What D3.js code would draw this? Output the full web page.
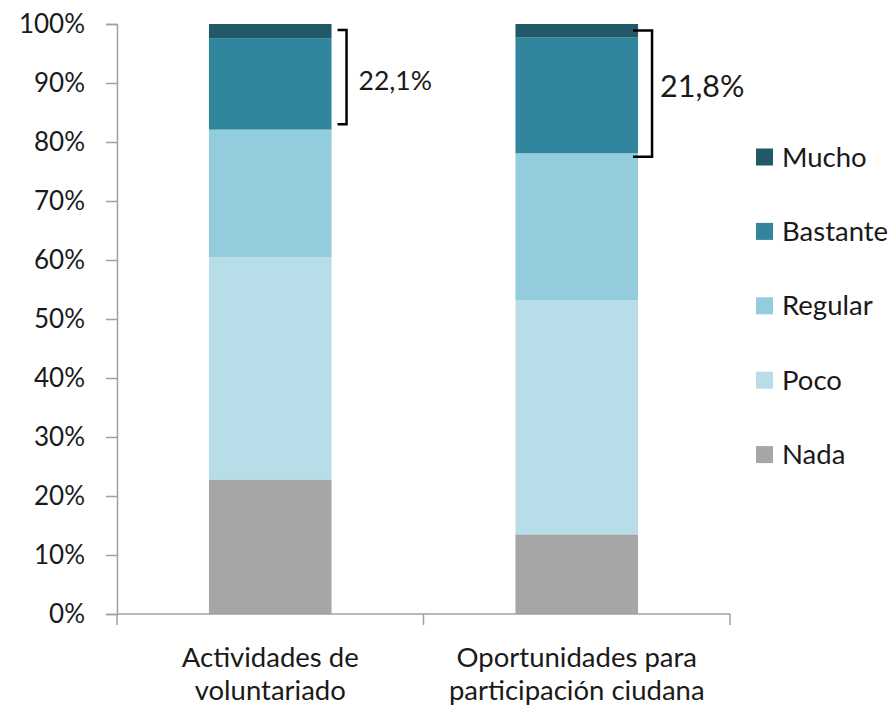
<!DOCTYPE html>
<html><head><meta charset="utf-8">
<script src="https://cdn.jsdelivr.net/npm/d3@7"></script>
<style>body{margin:0;background:#fff;} svg{display:block;} text{font-family:Lato, "Open Sans", sans-serif;}</style>
</head><body>
<svg id="c" width="894" height="707"></svg>
<script>
const categories = [["Actividades de","voluntariado"],["Oportunidades para","participación ciudana"]];
const seriesNames = ["Nada","Poco","Regular","Bastante","Mucho"];
const nada = [22.8, 13.5];
const poco = [37.7, 39.7];
const regular = [21.6, 24.9];
const bastante = [15.5, 19.6];
const mucho = [2.4, 2.3];
const colors = ["#a6a6a6","#b7dee8","#93cddd","#31859c","#215968"];
const yTicks = [0,10,20,30,40,50,60,70,80,90,100];
const bracketTop = [99.0, 98.9];
const bracketBottom = [83.0, 77.5];
const bracketLabels = ["22,1%","21,8%"];

const svg = d3.select("#c");
const x = d3.scaleBand().domain([0,1]).range([117,730]).padding(0);
const y = d3.scaleLinear().domain([0,100]).range([614,24]);
const barW = x.bandwidth()*0.4;

const rows = [0,1].map(i=>({i, Nada:nada[i], Poco:poco[i], Regular:regular[i], Bastante:bastante[i], Mucho:mucho[i]}));
const stack = d3.stack().keys(seriesNames)(rows);

stack.forEach((layer,k)=>{
  svg.append("g").selectAll("rect").data(layer).join("rect")
    .attr("x", d=>x(d.data.i)+x.bandwidth()/2-barW/2)
    .attr("width", barW)
    .attr("y", d=>y(d[1]))
    .attr("height", d=>y(d[0])-y(d[1]))
    .attr("fill", colors[k]);
});

// y axis
const ya = svg.append("g").attr("transform","translate(117,0)")
  .call(d3.axisLeft(y).tickValues(yTicks).tickSize(11).tickFormat(d=>d+"%"));
ya.select(".domain").attr("stroke","#a0a0a0").attr("stroke-width",1.5);
ya.selectAll(".tick line").attr("stroke","#a0a0a0").attr("stroke-width",1.5);
ya.selectAll(".tick text").attr("x",-32).attr("font-size",26).attr("fill","#1a1a1a")
  .style("font-family","Lato, sans-serif");

// x axis
const xa = svg.append("g").attr("transform","translate(0,614)");
xa.append("line").attr("x1",117).attr("x2",730).attr("stroke","#a0a0a0").attr("stroke-width",1.5);
[0,1,2].forEach(j=>{
  const xx = j<2 ? x(j) : x(1)+x.bandwidth();
  xa.append("line").attr("x1",xx).attr("x2",xx).attr("y1",0).attr("y2",11).attr("stroke","#a0a0a0").attr("stroke-width",1.5);
});
categories.forEach((lines,i)=>{
  lines.forEach((t,li)=>{
    svg.append("text").attr("x", x(i)+x.bandwidth()/2).attr("y", 667+li*33)
      .attr("text-anchor","middle").attr("font-size",27.5).attr("fill","#1a1a1a").text(t);
  });
});

// brackets
[0,1].forEach(i=>{
  const bx = x(i)+x.bandwidth()/2+barW/2;
  const vx = bx+15 - (i===1?1:0);
  const sx = i===0 ? bx+6 : bx-5;
  svg.append("path")
    .attr("d", `M${sx},${y(bracketTop[i])}H${vx}V${y(bracketBottom[i])}H${sx}`)
    .attr("fill","none").attr("stroke","#000").attr("stroke-width",2.5);
  svg.append("text").attr("x", vx+ (i===0?12:8)).attr("y", (y(bracketTop[i])+y(bracketBottom[i]))/2 + (i===0?13:3))
    .attr("font-size", i===0?26.5:30.5).attr("fill","#1a1a1a").text(bracketLabels[i]);
});

// legend
const legendOrder = ["Mucho","Bastante","Regular","Poco","Nada"];
legendOrder.forEach((name,j)=>{
  const cy = 157 + j*74.4;
  svg.append("rect").attr("x",756).attr("y",cy-8.5).attr("width",17).attr("height",17)
    .attr("fill", colors[seriesNames.indexOf(name)]);
  svg.append("text").attr("x",782).attr("y",cy+9.5).attr("font-size",27.5).attr("fill","#1a1a1a").text(name);
});
</script>
</body></html>
